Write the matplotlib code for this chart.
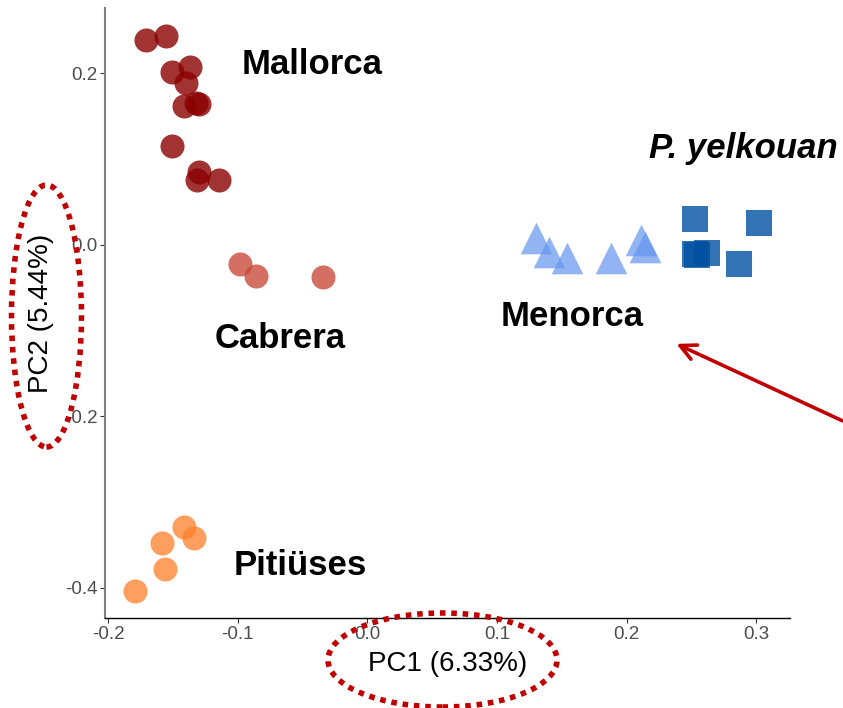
import matplotlib
matplotlib.use('Agg')
import matplotlib.pyplot as plt
from matplotlib.patches import Ellipse

plt.rcParams['font.family'] = ['Liberation Sans', 'DejaVu Sans']

# PCA scores per group (PC1, PC2)
mallorca_pc1 = [-0.171, -0.155, -0.151, -0.137, -0.140, -0.141, -0.132, -0.130, -0.151, -0.130, -0.131, -0.114]
mallorca_pc2 = [0.239, 0.243, 0.201, 0.207, 0.189, 0.162, 0.165, 0.164, 0.115, 0.085, 0.075, 0.076]
cabrera_pc1 = [-0.098, -0.086, -0.034]
cabrera_pc2 = [-0.022, -0.036, -0.038]
pitiuses_pc1 = [-0.141, -0.134, -0.158, -0.156, -0.179]
pitiuses_pc2 = [-0.329, -0.342, -0.347, -0.378, -0.404]
menorca_pc1 = [0.130, 0.140, 0.154, 0.188, 0.211, 0.214]
menorca_pc2 = [0.008, -0.008, -0.015, -0.015, 0.006, -0.002]
yelkouan_pc1 = [0.253, 0.302, 0.253, 0.254, 0.262, 0.287]
yelkouan_pc2 = [0.030, 0.025, -0.011, -0.012, -0.010, -0.022]

x_ticks = [-0.2, -0.1, 0.0, 0.1, 0.2, 0.3]
y_ticks = [0.2, 0.0, -0.2, -0.4]
x_label = "PC1 (6.33%)"
y_label = "PC2 (5.44%)"

fig = plt.figure(figsize=(8.43, 7.08), dpi=100)
ax = fig.add_axes([105 / 843, 90 / 708, 685 / 843, 610 / 708])

ax.scatter(mallorca_pc1, mallorca_pc2, s=300, color='#8B0000', alpha=0.8, linewidths=0)
ax.scatter(cabrera_pc1, cabrera_pc2, s=300, color='#C84B3C', alpha=0.8, linewidths=0)
ax.scatter(pitiuses_pc1, pitiuses_pc2, s=300, color='#FF7F2A', alpha=0.75, linewidths=0)
ax.scatter(menorca_pc1, menorca_pc2, s=520, marker='^', color='#6495ED', alpha=0.7, linewidths=0)
ax.scatter(yelkouan_pc1, yelkouan_pc2, s=330, marker='s', color='#0050A0', alpha=0.8, linewidths=0)

# group names
lab_kw = dict(fontsize=25, fontweight='bold', ha='center', va='baseline')
ax.text(-0.0425, 0.1995, "Mallorca", **lab_kw)
ax.text(-0.0675, -0.1205, "Cabrera", **lab_kw)
ax.text(-0.0517, -0.3850, "Pitiüses", **lab_kw)
ax.text(0.1578, -0.0945, "Menorca", **lab_kw)
ax.text(0.290, 0.1010, "P. yelkouan", style='italic', **lab_kw)

ax.set_xlim(-0.2023, 0.326)
ax.set_ylim(-0.435, 0.276)
ax.set_xticks(x_ticks)
ax.set_xticklabels([f"{v:.1f}" for v in x_ticks])
ax.set_yticks(y_ticks)
ax.set_yticklabels([f"{v:.1f}" for v in y_ticks])
ax.tick_params(labelsize=13.5, labelcolor='#4D4D4D', color='#333333', length=3.5, width=0.8, pad=2)

ax.set_xlabel(x_label, fontsize=20, labelpad=6)
ax.set_ylabel(y_label, fontsize=20, labelpad=8)

for side in ['top', 'right']:
    ax.spines[side].set_visible(False)
ax.spines['left'].set_color('#7F7F7F')
ax.spines['left'].set_linewidth(1.5)
ax.spines['bottom'].set_color('black')
ax.spines['bottom'].set_linewidth(1.0)

# arrow pointing at Menorca
ax.annotate("", xy=(0.2384, -0.1155), xytext=(0.3665, -0.2052),
            arrowprops=dict(arrowstyle='->', color='#C00000', lw=2.6,
                            mutation_scale=28, shrinkA=0, shrinkB=0),
            annotation_clip=False)

# dotted highlight around the axis titles
ell_kw = dict(fill=False, edgecolor='#C00000', linewidth=4.0, linestyle=(0, (1.0, 1.05)),
              transform=fig.transFigure)
fig.add_artist(Ellipse((46.5 / 843, 1 - 316 / 708), 70 / 843, 262 / 708, **ell_kw))
fig.add_artist(Ellipse((442.5 / 843, 1 - 660 / 708), 229 / 843, 94 / 708, **ell_kw))

fig.savefig('out.png', dpi=100)
